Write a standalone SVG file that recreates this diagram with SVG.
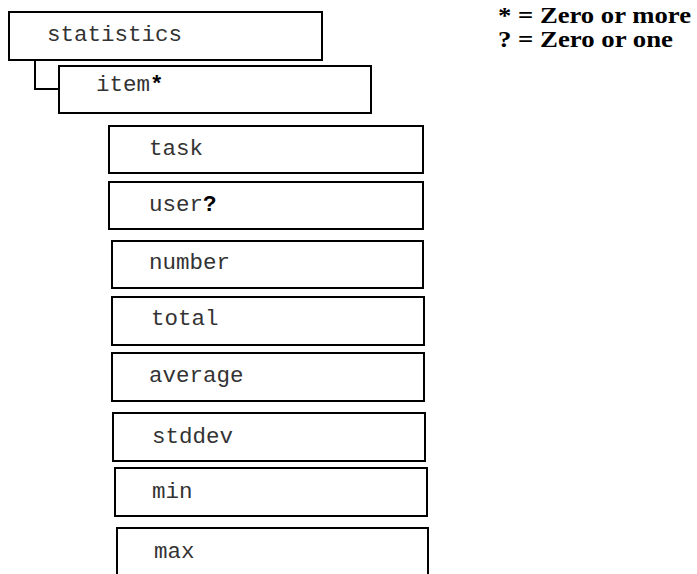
<svg xmlns="http://www.w3.org/2000/svg" width="697" height="574" viewBox="0 0 697 574">
<style>
.box{fill:#fff;stroke:#000;stroke-width:2}
.t{font-family:"Liberation Mono","Courier New",monospace;font-size:22.5px;fill:#333}
.b{font-weight:bold;fill:#000}
.lg{font-family:"Liberation Serif","Times New Roman",serif;font-size:23px;font-weight:bold;fill:#000}
.c{fill:none;stroke:#000;stroke-width:2}
</style>
<rect x="0" y="0" width="697" height="574" fill="#fff"/>
<g id="connectors">
<path class="c" d="M35,60 V89 H59"/>
</g>
<g id="statistics"><rect class="box" x="9" y="12" width="313" height="48"/><text class="t" x="47" y="41">statistics</text></g>
<g id="item"><rect class="box" x="59" y="66" width="312" height="47"/><text class="t" x="96" y="91">item<tspan class="b">*</tspan></text></g>
<g id="task"><rect class="box" x="109" y="126" width="314" height="47"/><text class="t" x="149" y="155">task</text></g>
<g id="user"><rect class="box" x="109" y="182" width="314" height="47"/><text class="t" x="149" y="211">user<tspan class="b">?</tspan></text></g>
<g id="number"><rect class="box" x="112" y="241" width="311" height="47"/><text class="t" x="149" y="269">number</text></g>
<g id="total"><rect class="box" x="112" y="297" width="312" height="48"/><text class="t" x="151" y="325">total</text></g>
<g id="average"><rect class="box" x="112" y="353" width="312" height="48"/><text class="t" x="149" y="382">average</text></g>
<g id="stddev"><rect class="box" x="113" y="413" width="312" height="48"/><text class="t" x="152" y="443">stddev</text></g>
<g id="min"><rect class="box" x="115" y="468" width="312" height="48"/><text class="t" x="152" y="498">min</text></g>
<g id="max"><rect class="box" x="117" y="528" width="311" height="60"/><text class="t" x="154" y="558">max</text></g>
<g id="legend">
<text class="lg" x="498" y="23" textLength="193" lengthAdjust="spacingAndGlyphs">* = Zero or more</text>
<text class="lg" x="498" y="47" textLength="175" lengthAdjust="spacingAndGlyphs">? = Zero or one</text>
</g>
</svg>
